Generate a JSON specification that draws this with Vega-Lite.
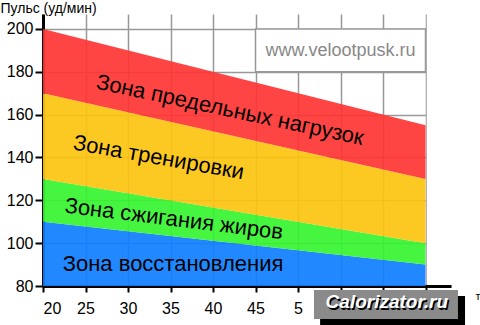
{
  "$schema": "https://vega.github.io/schema/vega-lite/v6.json",
  "width": 408,
  "height": 272,
  "autosize": "none",
  "padding": {"left": 43, "top": 14, "right": 29, "bottom": 39},
  "background": "white",
  "config": {"view": {"stroke": null}, "font": "Liberation Sans"},
  "datasets": {
    "bands": [
      {"zone": "blue", "age": 20, "lo": 80, "hi": 110},
      {"zone": "blue", "age": 65, "lo": 80, "hi": 90},
      {"zone": "green", "age": 20, "lo": 110, "hi": 130},
      {"zone": "green", "age": 65, "lo": 90, "hi": 100},
      {"zone": "yellow", "age": 20, "lo": 130, "hi": 170},
      {"zone": "yellow", "age": 65, "lo": 100, "hi": 130},
      {"zone": "red", "age": 20, "lo": 170, "hi": 200},
      {"zone": "red", "age": 65, "lo": 130, "hi": 155}
    ],
    "labels": [
      {"text": "Зона предельных нагрузок", "age": 42.0, "bpm": 162.2, "ang": 12},
      {"text": "Зона тренировки", "age": 33.6, "bpm": 140.0, "ang": 10},
      {"text": "Зона сжигания жиров", "age": 35.4, "bpm": 111.3, "ang": 7},
      {"text": "Зона восстановления", "age": 35.3, "bpm": 90.3, "ang": 0}
    ]
  },
  "layer": [
    {
      "data": {"name": "bands"},
      "mark": {"type": "area", "opacity": 0.92, "interpolate": "linear"},
      "encoding": {
        "x": {
          "field": "age", "type": "quantitative",
          "scale": {"domain": [20, 68], "nice": false, "zero": false},
          "axis": {
            "values": [20, 25, 30, 35, 40, 45, 50, 55, 60, 65],
            "labelExpr": "datum.value == 50 ? '5' : (datum.value > 50 ? '' : datum.label)",
            "grid": true, "gridColor": "#999", "gridWidth": 1.5,
            "domainColor": "black", "domainWidth": 3,
            "tickColor": "black", "tickWidth": 2, "tickSize": 6,
            "labelFontSize": 16, "labelColor": "black", "labelPadding": 8,
            "labelFont": "Liberation Sans",
            "title": "т", "titleFontSize": 11, "titleFontWeight": "normal",
            "titleAnchor": "start", "titleAlign": "left", "titleX": 432, "titleY": 13,
            "titleBaseline": "alphabetic", "titleColor": "black"
          }
        },
        "y": {
          "field": "hi", "type": "quantitative",
          "scale": {"domain": [80, 207], "nice": false, "zero": false},
          "axis": {
            "values": [80, 90, 100, 110, 120, 130, 140, 150, 160, 170, 180, 190, 200],
            "labelExpr": "datum.value % 20 == 0 ? datum.label : ''",
            "grid": true, "gridColor": "#999", "gridWidth": 1.5,
            "gridOpacity": {"condition": {"test": "datum.value % 20 != 0", "value": 0}, "value": 1},
            "tickSize": {"condition": {"test": "datum.value % 20 != 0", "value": 5}, "value": 8},
            "domainColor": "black", "domainWidth": 3,
            "tickColor": "black", "tickWidth": 2,
            "labelFontSize": 16, "labelColor": "black", "labelPadding": 2,
            "labelFont": "Liberation Sans",
            "title": "Пульс (уд/мин)", "titleFontSize": 14, "titleFontWeight": "normal",
            "titleAngle": 0, "titleAnchor": "start", "titleAlign": "left",
            "titleX": -43, "titleY": -2, "titleBaseline": "alphabetic", "titleColor": "black"
          }
        },
        "y2": {"field": "lo"},
        "color": {
          "field": "zone", "type": "nominal",
          "scale": {"domain": ["blue", "green", "yellow", "red"], "range": ["#0F7EFF", "#36F430", "#FCC30F", "#FF3434"]},
          "legend": null
        }
      }
    },
    {
      "data": {"values": [{"x1": 45, "x2": 65, "y1": 180, "y2": 200}]},
      "mark": {"type": "rect", "fill": "white", "stroke": "#999", "strokeWidth": 1.5},
      "encoding": {
        "x": {"field": "x1", "type": "quantitative"},
        "x2": {"field": "x2"},
        "y": {"field": "y1", "type": "quantitative"},
        "y2": {"field": "y2"}
      }
    },
    {
      "data": {"values": [{"x1": 65.15, "x2": 68.5, "y1": 80.7, "y2": 208}]},
      "mark": {"type": "rect", "fill": "white"},
      "encoding": {
        "x": {"field": "x1", "type": "quantitative"},
        "x2": {"field": "x2"},
        "y": {"field": "y1", "type": "quantitative"},
        "y2": {"field": "y2"}
      }
    },
    {
      "data": {"values": [{"text": "www.velootpusk.ru", "age": 55.0, "bpm": 189.6}]},
      "mark": {"type": "text", "fontSize": 18, "color": "#888", "font": "Liberation Sans", "align": "center", "baseline": "middle"},
      "encoding": {
        "x": {"field": "age", "type": "quantitative"},
        "y": {"field": "bpm", "type": "quantitative"},
        "text": {"field": "text"}
      }
    },
    {
      "data": {"name": "labels"},
      "mark": {"type": "text", "fontSize": 22, "color": "black", "font": "Liberation Sans", "align": "center", "baseline": "middle"},
      "encoding": {
        "x": {"field": "age", "type": "quantitative"},
        "y": {"field": "bpm", "type": "quantitative"},
        "text": {"field": "text"},
        "angle": {"field": "ang", "type": "quantitative", "scale": null}
      }
    },
    {
      "data": {"values": [{"x1": 52.6, "x2": 69.65, "y1": 61.8, "y2": 75.3}]},
      "mark": {"type": "rect", "fill": "#000000"},
      "encoding": {
        "x": {"field": "x1", "type": "quantitative"},
        "x2": {"field": "x2"},
        "y": {"field": "y1", "type": "quantitative"},
        "y2": {"field": "y2"}
      }
    },
    {
      "data": {"values": [{"x1": 51.88, "x2": 68.82, "y1": 64.6, "y2": 78.1}]},
      "mark": {"type": "rect", "fill": "#8a8a8a"},
      "encoding": {
        "x": {"field": "x1", "type": "quantitative"},
        "x2": {"field": "x2"},
        "y": {"field": "y1", "type": "quantitative"},
        "y2": {"field": "y2"}
      }
    },
    {
      "data": {"values": [{"text": "Calorizator.ru", "age": 60.45, "bpm": 72.4}]},
      "mark": {"type": "text", "fontSize": 19, "fontWeight": "bold", "fontStyle": "italic", "color": "black", "font": "Liberation Sans", "align": "center", "baseline": "middle", "dx": 1.5, "dy": 2},
      "encoding": {
        "x": {"field": "age", "type": "quantitative"},
        "y": {"field": "bpm", "type": "quantitative"},
        "text": {"field": "text"}
      }
    },
    {
      "data": {"values": [{"text": "Calorizator.ru", "age": 60.45, "bpm": 72.4}]},
      "mark": {"type": "text", "fontSize": 19, "fontWeight": "bold", "fontStyle": "italic", "color": "white", "font": "Liberation Sans", "align": "center", "baseline": "middle"},
      "encoding": {
        "x": {"field": "age", "type": "quantitative"},
        "y": {"field": "bpm", "type": "quantitative"},
        "text": {"field": "text"}
      }
    }
  ]
}
